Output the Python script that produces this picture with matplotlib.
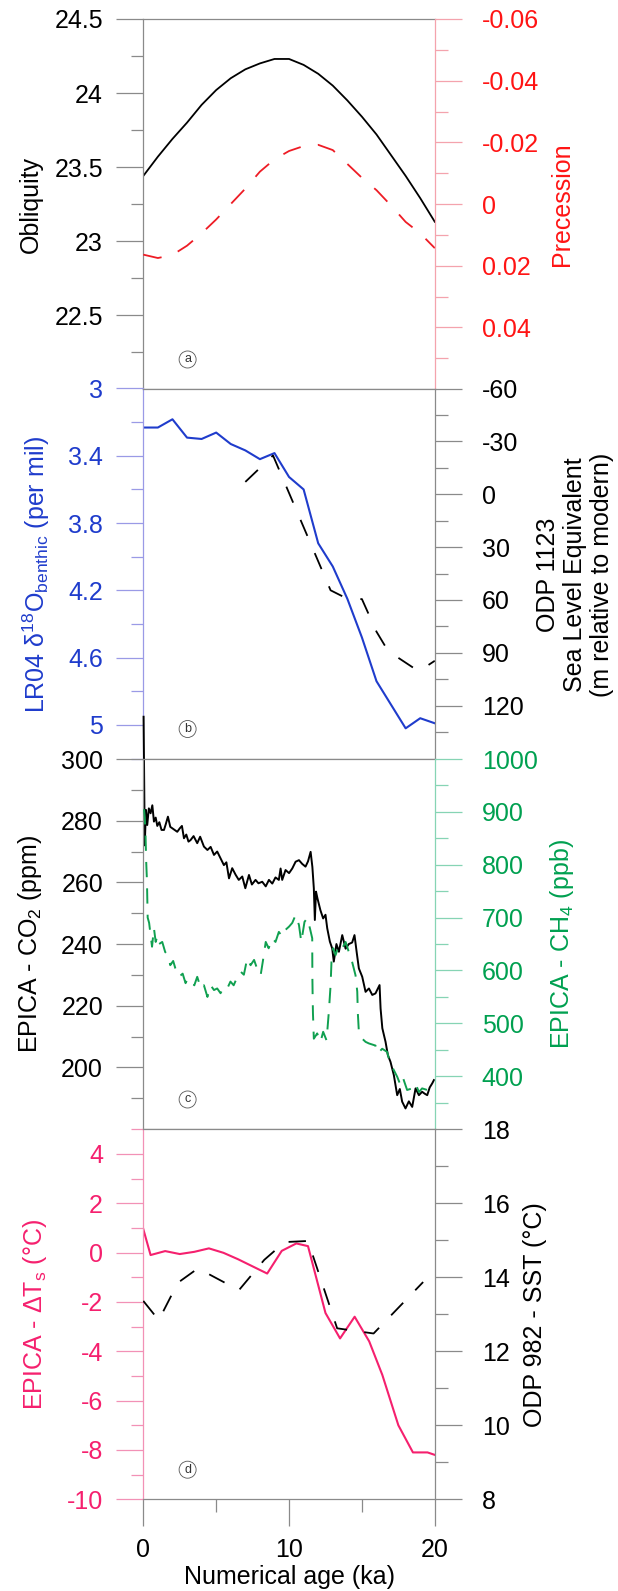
import matplotlib
matplotlib.use('Agg')
import matplotlib.pyplot as plt
from matplotlib.ticker import FixedLocator, FuncFormatter

plt.rcParams['font.family'] = ['Liberation Sans', 'DejaVu Sans']
plt.rcParams['mathtext.fontset'] = 'custom'
plt.rcParams['mathtext.rm'] = 'Liberation Sans'
plt.rcParams['mathtext.it'] = 'Liberation Sans:italic'
plt.rcParams['axes.unicode_minus'] = False
plt.rcParams['lines.scale_dashes'] = False

# ---------------- data ----------------
orbit_age = [0, 1, 2, 3, 4, 5, 6, 7, 8, 9, 10, 11, 12, 13, 14, 15, 16, 17, 18, 19, 20]
obliquity = [23.44, 23.57, 23.69, 23.80, 23.92, 24.02, 24.10, 24.16, 24.20, 24.23, 24.23,
             24.19, 24.13, 24.05, 23.95, 23.84, 23.72, 23.58, 23.44, 23.29, 23.13]
precession = [0.0164, 0.0175, 0.0165, 0.0135, 0.0095, 0.0050, 0.0000, -0.0050, -0.0105,
              -0.0145, -0.0172, -0.0188, -0.0192, -0.0175, -0.0130, -0.0085, -0.0045,
              0.0005, 0.0058, 0.0095, 0.0143]

lr04_age = [0, 1, 2, 3, 4, 5, 6, 7, 8, 9, 10, 11, 12, 13, 14, 15, 16, 17, 18, 19, 20]
lr04_d18o = [3.232, 3.232, 3.183, 3.292, 3.300, 3.262, 3.330, 3.368, 3.420, 3.384, 3.526,
             3.600, 3.920, 4.058, 4.250, 4.480, 4.740, 4.880, 5.020, 4.960, 4.990]

sl_age = [7.0, 8.9, 12.85, 14.0, 15.0, 16.0, 16.8, 18.9, 20.0]
sea_level = [-7, -22, 54.5, 59.3, 59.5, 78, 89, 100.5, 94.5]

co2_age = [0.02, 0.1, 0.18, 0.27, 0.38, 0.5, 0.62, 0.73, 0.85, 0.96, 1.1, 1.25, 1.42, 1.55,
           1.69, 1.85, 2.0, 2.15, 2.33, 2.5, 2.65, 2.79, 2.95, 3.1, 3.24, 3.45, 3.7, 3.9,
           4.16, 4.4, 4.62, 4.85, 5.07, 5.3, 5.53, 5.7, 5.88, 6.1, 6.33, 6.55, 6.79, 7.0,
           7.25, 7.45, 7.7, 7.9, 8.16, 8.4, 8.62, 8.85, 9.07, 9.3, 9.42, 9.53, 9.76, 10.0,
           10.22, 10.45, 10.68, 10.9, 11.13, 11.3, 11.48, 11.6, 11.7, 11.77, 11.85, 11.95,
           12.15, 12.34, 12.5, 12.62, 12.8, 12.96, 13.07, 13.25, 13.42, 13.65, 13.88, 14.1,
           14.33, 14.49, 14.65, 14.79, 15.02, 15.25, 15.48, 15.71, 15.93, 16.21, 16.28,
           16.4, 16.62, 16.78, 16.96, 17.19, 17.42, 17.6, 17.76, 17.99, 18.22, 18.45,
           18.68, 18.91, 19.13, 19.3, 19.48, 19.65, 19.82, 19.94]
co2_ppm = [313.7, 272.0, 283.5, 278.6, 284.0, 282.4, 285.0, 279.7, 281.0, 278.3, 279.5,
           277.0, 277.0, 279.0, 281.3, 278.0, 277.5, 277.0, 276.4, 277.5, 278.3, 274.3,
           275.5, 273.2, 273.7, 275.0, 272.7, 274.8, 271.6, 270.5, 271.5, 268.9, 270.0,
           267.8, 265.6, 266.5, 261.3, 264.6, 262.5, 260.8, 261.9, 258.1, 262.4, 259.3,
           260.8, 259.7, 260.2, 258.7, 260.8, 259.6, 261.6, 260.8, 264.5, 260.8, 264.0,
           263.0, 264.5, 266.7, 267.2, 266.0, 265.1, 266.8, 269.9, 265.0, 258.1, 247.8,
           257.0, 254.8, 251.0, 248.3, 249.5, 245.1, 240.8, 238.6, 234.3, 240.0, 237.5,
           242.9, 238.5, 240.0, 240.5, 242.9, 237.0, 232.1, 229.4, 224.5, 225.6, 223.5,
           224.0, 226.7, 219.1, 212.7, 208.3, 204.0, 201.8, 197.5, 191.0, 193.0, 188.9,
           186.7, 189.0, 187.2, 193.2, 191.0, 192.1, 191.5, 191.0, 193.5, 194.8, 195.9]

ch4_age = [0.05, 0.1, 0.15, 0.2, 0.25, 0.3, 0.4, 0.5, 0.6, 0.73, 0.85, 0.96, 1.08, 1.3,
           1.5, 1.7, 1.85, 2.05, 2.2, 2.45, 2.7, 2.9, 3.05, 3.24, 3.5, 3.7, 3.95, 4.16,
           4.4, 4.62, 4.85, 5.07, 5.3, 5.53, 5.76, 5.98, 6.2, 6.45, 6.67, 6.9, 7.13, 7.36,
           7.6, 7.8, 8.05, 8.2, 8.4, 8.6, 8.85, 9.07, 9.3, 9.53, 9.76, 10.0, 10.22, 10.45,
           10.68, 10.84, 11.06, 11.25, 11.43, 11.59, 11.6, 11.62, 11.64, 11.7, 11.93,
           12.16, 12.34, 12.57, 12.62, 12.73, 12.85, 12.92, 13.03, 13.19, 13.42, 13.65,
           13.88, 14.1, 14.33, 14.56, 14.68, 14.72, 14.79, 15.02, 15.25, 15.48, 15.93,
           16.09, 16.39, 16.73, 16.91, 17.07, 17.42, 17.65, 17.83, 18.1, 18.45, 18.68,
           18.91, 19.13, 19.48, 19.82, 19.94]
ch4_ppb = [905, 890, 860, 805, 770, 700, 690, 667, 645, 680, 654, 665, 650, 654, 635, 629,
           610, 618, 604, 588, 594, 576, 585, 579, 572, 588, 566, 572, 550, 572, 563, 566,
           557, 569, 566, 579, 572, 588, 598, 592, 623, 610, 620, 604, 591, 617, 654, 642,
           661, 654, 673, 664, 677, 683, 690, 705, 686, 654, 692, 699, 680, 661, 588, 550,
           519, 471, 481, 465, 484, 468, 484, 522, 572, 623, 642, 629, 648, 642, 654, 635,
           616, 591, 560, 519, 484, 471, 465, 462, 458, 443, 452, 446, 427, 418, 399, 383,
           396, 374, 377, 386, 370, 377, 374, 380, 383]

dts_age = [0.0, 0.5, 1.5, 2.5, 3.5, 4.5, 5.5, 6.5, 7.5, 8.5, 9.5, 10.5, 11.3, 12.5, 13.5,
           14.5, 15.5, 16.4, 17.5, 18.5, 19.5, 20.0]
dts = [0.95, -0.10, 0.06, -0.06, 0.03, 0.17, -0.01, -0.27, -0.56, -0.85, 0.07, 0.37, 0.26,
       -2.45, -3.48, -2.60, -3.60, -4.96, -7.00, -8.10, -8.10, -8.20]

sst_age = [0.0, 1.06, 2.37, 3.75, 6.56, 8.3, 9.7, 11.3, 13.3, 15.8, 19.2]
sst = [13.36, 12.84, 13.85, 14.24, 13.65, 14.47, 14.95, 14.98, 12.62, 12.48, 13.87]

# tick values
obl_major = [22.5, 23, 23.5, 24, 24.5]
obl_minor = [22.25, 22.75, 23.25, 23.75, 24.25]
prec_major = [-0.06, -0.04, -0.02, 0, 0.02, 0.04]
prec_minor = [-0.05, -0.03, -0.01, 0.01, 0.03, 0.05]
d18o_major = [3, 3.4, 3.8, 4.2, 4.6, 5]
d18o_minor = [3.2, 3.6, 4.0, 4.4, 4.8, 5.2]
sl_major = [-60, -30, 0, 30, 60, 90, 120]
sl_minor = [-45, -15, 15, 45, 75, 105, 135]
co2_major = [200, 220, 240, 260, 280, 300]
co2_minor = [190, 210, 230, 250, 270, 290]
ch4_major = [400, 500, 600, 700, 800, 900, 1000]
ch4_minor = [350, 450, 550, 650, 750, 850, 950]
dts_major = [-10, -8, -6, -4, -2, 0, 2, 4]
dts_minor = [-9, -7, -5, -3, -1, 1, 3, 5]
sst_major = [8, 10, 12, 14, 16, 18]
sst_minor = [9, 11, 13, 15, 17]
age_major = [0, 10, 20]
age_minor = [5, 15]

# ---------------- colours ----------------
GRAY = '#8a8a8a'
RED = '#ff1414'
BLUE = '#1f3ccc'
GREEN = '#00a050'
PINK = '#f5206e'
FS = 18

W, H = 618, 1591
fig = plt.figure(figsize=(6.18, 15.91), dpi=100)
L = 143.3 / W
AW = 291.5 / W
PH = 370.1
tops = [19.0, 388.5, 759.0, 1129.2]

fmt = FuncFormatter(lambda v, p: f'{v:g}')


def make(top):
    ax = fig.add_axes([L, (H - top - PH) / H, AW, PH / H])
    tw = ax.twinx()
    ax.set_xlim(0, 20)
    return ax, tw


def style(ax, tw, lc, rc, ltc, rtc, lmaj, lmin, rmaj, rmin, lim_l, lim_r):
    ax.set_ylim(*lim_l)
    tw.set_ylim(*lim_r)
    for s in ['top', 'bottom']:
        ax.spines[s].set_color(GRAY)
        ax.spines[s].set_linewidth(0.9)
    ax.spines['left'].set_color(lc)
    ax.spines['left'].set_linewidth(0.9)
    ax.spines['right'].set_visible(False)
    for s in ['top', 'bottom', 'left']:
        tw.spines[s].set_visible(False)
    tw.spines['right'].set_color(rc)
    tw.spines['right'].set_linewidth(0.9)
    ax.yaxis.set_major_locator(FixedLocator(lmaj))
    ax.yaxis.set_minor_locator(FixedLocator(lmin))
    ax.yaxis.set_major_formatter(fmt)
    tw.yaxis.set_major_locator(FixedLocator(rmaj))
    tw.yaxis.set_minor_locator(FixedLocator(rmin))
    tw.yaxis.set_major_formatter(fmt)
    ax.tick_params(axis='y', which='major', direction='out', length=19.4, width=0.9,
                   color=lc, labelcolor=ltc, labelsize=FS, pad=9.6)
    ax.tick_params(axis='y', which='minor', direction='out', length=9, width=0.9, color=lc)
    tw.tick_params(axis='y', which='major', direction='out', length=19.4, width=0.9,
                   color=rc, labelcolor=rtc, labelsize=FS, pad=14.4)
    tw.tick_params(axis='y', which='minor', direction='out', length=9, width=0.9, color=rc)
    ax.tick_params(axis='x', which='both', bottom=False, top=False, labelbottom=False)
    tw.tick_params(axis='x', which='both', bottom=False, top=False, labelbottom=False)


def tag(ax, letter):
    ax.text(0.152, 0.08, letter, transform=ax.transAxes, fontsize=9, color='#333333',
            ha='center', va='center',
            bbox=dict(boxstyle='circle,pad=0.2', fc='white', ec='#555555', lw=0.6))


# ---------------- panel a ----------------
axa, twa = make(tops[0])
style(axa, twa, GRAY, '#f4a3ad', 'black', RED, obl_major, obl_minor, prec_major, prec_minor,
      (22, 24.5), (0.06, -0.06))
axa.plot(orbit_age, obliquity, color='black', lw=1.3)
twa.plot(orbit_age, precession, color='#ee1c25', lw=1.3, linestyle=(0, (13.5, 12.5)))
axa.text(-0.384, 0.5, 'Obliquity', transform=axa.transAxes, rotation=90, ha='center',
         va='center', fontsize=FS, color='black')
axa.text(1.436, 0.5, 'Precession', transform=axa.transAxes, rotation=90, ha='center',
         va='center', fontsize=FS, color=RED)
tag(axa, 'a')

# ---------------- panel b ----------------
axb, twb = make(tops[1])
style(axb, twb, '#9a9ae6', GRAY, BLUE, 'black', d18o_major, d18o_minor, sl_major, sl_minor,
      (5.2, 3.0), (150, -60))
axb.plot(lr04_age, lr04_d18o, color=BLUE, lw=1.5)
twb.plot(sl_age, sea_level, color='black', lw=1.3, linestyle=(0, (12.5, 13.5)))
axb.text(-0.368, 0.497, r'LR04 δ$^{\mathrm{18}}$O$_{\mathrm{benthic}}$ (per mil)',
         transform=axb.transAxes, rotation=90, ha='center', va='center', fontsize=FS,
         color=BLUE)
axb.text(1.481, 0.497, 'ODP 1123\nSea Level Equivalent\n(m relative to modern)',
         transform=axb.transAxes, rotation=90, ha='center', va='center',
         multialignment='center', linespacing=1.15, fontsize=FS, color='black')
tag(axb, 'b')

# ---------------- panel c ----------------
axc, twc = make(tops[2])
style(axc, twc, GRAY, '#86d4b4', 'black', GREEN, co2_major, co2_minor, ch4_major, ch4_minor,
      (180, 300), (300, 1000))
axc.plot(co2_age, co2_ppm, color='black', lw=1.4, clip_on=False)
twc.plot(ch4_age, ch4_ppb, color='#10a050', lw=1.4, linestyle=(0, (11, 8)))
axc.text(-0.39, 0.5, r'EPICA - CO$_2$ (ppm)', transform=axc.transAxes, rotation=90,
         ha='center', va='center', fontsize=FS, color='black')
axc.text(1.436, 0.5, r'EPICA - CH$_4$ (ppb)', transform=axc.transAxes, rotation=90,
         ha='center', va='center', fontsize=FS, color=GREEN)
tag(axc, 'c')

# ---------------- panel d ----------------
axd, twd = make(tops[3])
style(axd, twd, '#f291b6', GRAY, PINK, 'black', dts_major, dts_minor, sst_major, sst_minor,
      (-10, 5), (8, 18))
axd.plot(dts_age, dts, color=PINK, lw=1.5)
twd.plot(sst_age, sst, color='black', lw=1.3, linestyle=(0, (12.5, 12.5)))
axd.text(-0.373, 0.5, r'EPICA - ΔT$_\mathrm{s}$ (°C)', transform=axd.transAxes,
         rotation=90, ha='center', va='center', fontsize=FS, color=PINK)
axd.text(1.344, 0.5, 'ODP 982 - SST (°C)', transform=axd.transAxes, rotation=90,
         ha='center', va='center', fontsize=FS, color='black')
tag(axd, 'd')

axd.xaxis.set_major_locator(FixedLocator(age_major))
axd.xaxis.set_minor_locator(FixedLocator(age_minor))
axd.xaxis.set_major_formatter(fmt)
axd.tick_params(axis='x', which='major', bottom=True, labelbottom=True, direction='out',
                length=19.4, width=0.9, color=GRAY, labelsize=FS, pad=8.7)
axd.tick_params(axis='x', which='minor', bottom=True, direction='out', length=9, width=0.9,
                color=GRAY)
axd.text(0.5, -0.21, 'Numerical age (ka)', transform=axd.transAxes, ha='center',
         va='center', fontsize=FS, color='black')

fig.savefig('out.png', dpi=100, facecolor='white')
